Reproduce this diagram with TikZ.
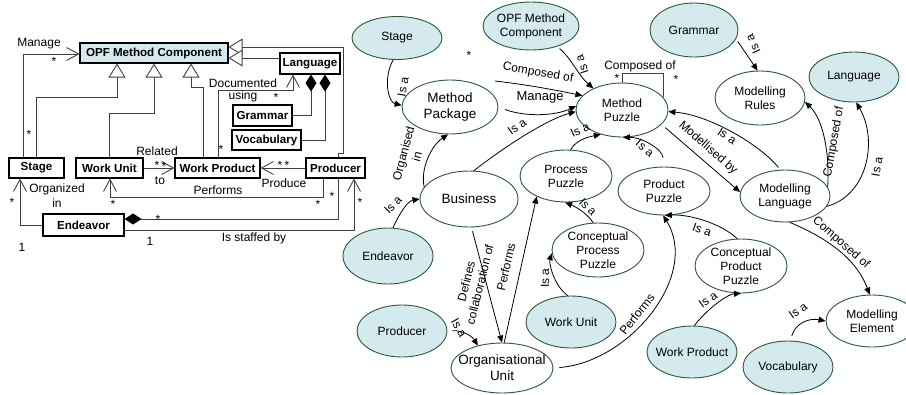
\documentclass[tikz,border=0pt]{standalone}
\usepackage{fontspec}
\setmainfont{Liberation Sans}
\usetikzlibrary{arrows.meta,shapes.geometric}
\definecolor{eblue}{RGB}{212,234,239}
\definecolor{egreen}{RGB}{40,90,55}
\definecolor{ugray}{RGB}{64,64,64}
\tikzset{
  wel/.style={ellipse,draw=egreen,line width=0.9bp,fill=white,inner sep=0pt},
  bel/.style={wel,fill=eblue},
  et/.style={align=center,inner sep=0pt,font=\fontsize{12bp}{14bp}\selectfont},
  etb/.style={align=center,inner sep=0pt,font=\fontsize{13.5bp}{16bp}\selectfont},
  lab/.style={inner sep=0pt,font=\fontsize{12bp}{14bp}\selectfont},
  labc/.style={lab,align=center},
  ar/.style={draw=black,line width=0.8bp,-{Triangle[length=7bp,width=6bp]}},
  box/.style={draw=black,line width=1.1bp,inner sep=0pt,minimum height=20bp,font=\bfseries\fontsize{11.6bp}{13bp}\selectfont},
  gen/.style={draw=ugray,line width=0.9bp,-{Triangle[length=14bp,width=17bp,fill=white]}},
  nav/.style={draw=ugray,line width=0.9bp,-{Straight Barb[length=12bp,width=13bp]}},
  comp/.style={draw=ugray,line width=0.9bp,-{Diamond[length=17bp,width=11bp,color=black]}},
  plain/.style={draw=ugray,line width=0.9bp},
  st/.style={lab,yshift=-2.5bp},
}
\begin{document}
\begin{tikzpicture}[x=1bp,y=-1bp]
\useasboundingbox (0,0) rectangle (906,394);
% ---------------- left UML part ----------------
\node[box,fill=eblue,minimum width=148bp] (opf) at (154,53) {OPF Method Component};
\node[box,minimum width=60bp,minimum height=21bp] (lang) at (310,63.5) {Language};
\node[box,minimum width=59bp,minimum height=21bp] (gram) at (262.5,115.5) {Grammar};
\node[box,minimum width=69bp] (voc) at (266.5,140) {Vocabulary};
\node[box,minimum width=55bp] (stg) at (36.5,168) {Stage};
\node[box,minimum width=67bp] (wu) at (109.5,168) {Work Unit};
\node[box,minimum width=85bp] (wp) at (217.5,168) {Work Product};
\node[box,minimum width=59bp] (prd) at (335.5,168) {Producer};
\node[box,minimum width=81bp,minimum height=22bp] (endv) at (83.5,225) {Endeavor};

\coordinate (g1) at (117,97);
\coordinate (g2) at (154,113);
\coordinate (g3) at (203,87); \coordinate (g3b) at (191,87);
\coordinate (g4) at (280,58);
\coordinate (g5) at (338,153); \coordinate (g6) at (343,153); \coordinate (g7) at (343,47);
\coordinate (g8) at (23,54);
\coordinate (g9) at (218,90); \coordinate (g10) at (293,90);
\coordinate (g11) at (311,115.5); \coordinate (g12) at (325,140);
\coordinate (g13) at (323,197); \coordinate (g14) at (110,197);
\coordinate (g15) at (20,225);
\coordinate (g16) at (338,219);
\coordinate (g17) at (354,230);

\draw[gen] (stg.north) |- (g1) -- (opf.south -| g1);
\draw[gen] (wu.north) |- (g2) -- (opf.south -| g2);
\draw[gen] (wp.north -| g3) -- (g3) -- (g3b) -- (opf.south -| g3b);
\draw[gen] (prd.north -| g5) -- (g5) -- (g6) -- (g7) -- (opf.east |- g7);
\draw[gen] (lang.west |- g4) -- (opf.east |- g4);
\draw[nav] (stg.north -| g8) -- (g8) -- (opf.west |- g8);
\draw[nav] (wp.north -| g9) -- (g9) -- (g10) -- (lang.south -| g10);
\draw[comp] (gram.east) -- (g11) -- (lang.south -| g11);
\draw[comp] (voc.east) -- (g12) -- (lang.south -| g12);
\draw[nav] (wu.east) -- (wp.west);
\draw[nav] (prd.west) -- (wp.east);
\draw[nav] (prd.south -| g13) -- (g13) -- (g14) -- (wu.south -| g14);
\draw[nav] (endv.west) -- (g15) -- (stg.south -| g15);
\draw[comp] (prd.south -| g16) -- (g16) -- (endv.east |- g16);
\draw[nav] (endv.east |- g17) -- (g17) -- (prd.south -| g17);

\node[lab] (tManage) at (39,44) {Manage};
\node[st] (s1) at (54,59) {*};
\node[st] (s2) at (29,132) {*};
\node[lab] (tDoc) at (243,83) {Documented};
\node[lab] (tUsing) at (243,96) {using};
\node[st] (s3) at (276,95) {*};
\node[st] (s4) at (221,147) {*};
\node[lab] (tRel) at (157,151) {Related};
\node[lab] (tTo) at (160,181) {to};
\node[st] (s5) at (157,163) {*};
\node[st] (s6) at (164,164) {*};
\node[st] (s7) at (280,163) {*};
\node[st] (s8) at (287,163) {*};
\node[lab] (tProduce) at (284,183) {Produce};
\node[lab] (tPerf) at (218,190) {Performs};
\node[st] (s9) at (113,202) {*};
\node[st] (s10) at (318,202) {*};
\node[st] (s11) at (332,194) {*};
\node[lab] (tOrg) at (57,189) {Organized};
\node[lab] (tIn) at (57,203) {in};
\node[st] (s12) at (12,200) {*};
\node[lab] (tOne1) at (22,247) {1};
\node[st] (s13) at (158,217) {*};
\node[lab] (tStaff) at (254,238) {Is staffed by};
\node[lab] (tOne2) at (150,241) {1};
\node[st] (s14) at (360,200) {*};

% ---------------- right concept map ----------------
\node[bel,minimum width=90bp,minimum height=43bp,label={[et]center:Stage}] (eStage) at (397,38) {};
\node[bel,minimum width=96bp,minimum height=48bp,label={[et]center:OPF Method\\Component}] (eOPF) at (531,26) {};
\node[bel,minimum width=88bp,minimum height=54bp,label={[et]center:Grammar}] (eGram) at (694,30) {};
\node[bel,minimum width=90bp,minimum height=50bp,label={[et]center:Language}] (eLang) at (854,77) {};
\node[bel,minimum width=90bp,minimum height=56bp,label={[et]center:Endeavor}] (eEnd) at (388,256) {};
\node[bel,minimum width=90bp,minimum height=52bp,label={[et]center:Producer}] (eProd) at (402,331) {};
\node[bel,minimum width=90bp,minimum height=52bp,label={[et]center:Work Unit}] (eWU) at (571,322) {};
\node[bel,minimum width=90bp,minimum height=52bp,label={[et]center:Work Product}] (eWP) at (692,352) {};
\node[bel,minimum width=90bp,minimum height=52bp,label={[et]center:Vocabulary}] (eVoc) at (788,367) {};

\node[wel,minimum width=96bp,minimum height=54bp,label={[etb]center:Method\\Package}] (mpk) at (450,107) {};
\node[wel,minimum width=92bp,minimum height=54bp,label={[et]center:Method\\Puzzle}] (mpz) at (622,110) {};
\node[wel,minimum width=90bp,minimum height=54bp,label={[et]center:Modelling\\Rules}] (mrules) at (760,98) {};
\node[wel,minimum width=98bp,minimum height=56bp,label={[etb]center:Business}] (bus) at (469,199) {};
\node[wel,minimum width=92bp,minimum height=52bp,label={[et]center:Process\\Puzzle}] (procp) at (566,176) {};
\node[wel,minimum width=92bp,minimum height=48bp,label={[et]center:Product\\Puzzle}] (prodp) at (664,191) {};
\node[wel,minimum width=92bp,minimum height=54bp,label={[et]center:Conceptual\\Process\\Puzzle}] (cprocp) at (598,250) {};
\node[wel,minimum width=92bp,minimum height=54bp,label={[et]center:Conceptual\\Product\\Puzzle}] (cprodp) at (741,266) {};
\node[wel,minimum width=90bp,minimum height=52bp,label={[et]center:Modelling\\Language}] (mlang) at (785,196) {};
\node[wel,minimum width=92bp,minimum height=52bp,label={[et]center:Modelling\\Element}] (melem) at (872,321) {};
\node[wel,minimum width=102bp,minimum height=50bp,label={[etb]center:Organisational\\Unit}] (orgu) at (502,368) {};

\coordinate (cst) at (495,81);

\draw[ar] (eStage.-100) .. controls (383,78) and (388,102) .. (mpk.178);
\draw[ar,shorten <=3bp] (eOPF.-38) .. controls (571,58) and (578,75) .. (mpz.143);
\draw[ar] (cst) .. controls (530,85) and (560,91) .. (mpz.160);
\draw[ar,shorten <=7bp] (mpk.east) .. controls (525,117) and (555,116) .. (mpz.175);
\draw[ar] (bus.80) .. controls (500,150) and (545,120) .. (mpz.182);
\draw[ar] (bus.165) .. controls (420,168) and (432,145) .. (mpk.-94);
\draw[ar] (eEnd.80) .. controls (400,212) and (408,201) .. (bus.west);
\draw[ar] (procp.80) .. controls (576,140) and (588,137) .. (mpz.-131);
\draw[ar,shorten <=9bp] (prodp.north) .. controls (662,148) and (640,137) .. (mpz.-88);
\draw[plain] (mpz.north) -- ++(0,-9) -| (mpz.17);
\draw[ar,shorten <=5bp] (mpz.-20) -- (mlang.175);
\draw[ar,shorten <=3bp] (mlang.100) .. controls (760,145) and (710,115) .. (mpz.-2);
\draw[ar] (mlang.12) .. controls (830,150) and (822,118) .. (mrules.-5);
\draw[ar] (mlang.-14) .. controls (868,195) and (878,140) .. (eLang.-85);
\draw[ar] (mlang.-80) .. controls (820,235) and (855,255) .. (melem.95);
\draw[ar,shorten <=3bp] (eGram.-12) -- (mrules.95);
\draw[ar] (cprocp.100) .. controls (586,212) and (574,206) .. (procp.-92);
\draw[ar] (eWU.97) .. controls (553,285) and (549,262) .. (cprocp.-176);
\draw[ar] (cprodp.98) .. controls (722,224) and (690,214) .. (prodp.-88);
\draw[ar] (eWP.85) .. controls (708,308) and (728,294) .. (cprodp.-90);
\draw[ar,shorten <=5bp] (eVoc.85) .. controls (796,322) and (810,318) .. (melem.west);
\draw[ar,shorten <=6bp] (orgu.east) .. controls (630,362) and (700,275) .. (prodp.-92);
\draw[ar] (orgu.85) -- (procp.-145);
\draw[ar,shorten <=4bp] (bus.-85) -- (orgu.north);
\draw[ar,shorten <=5bp] (eProd.east) .. controls (462,330) and (472,336) .. (orgu.137);

\node[lab,rotate=80] (r1) at (403,87) {Is a};
\node[lab,rotate=108] (r2) at (582,65) {Is a};
\node[lab,rotate=-10] (r3) at (538,73) {Composed of};
\node[st] (r4) at (469,53) {*};
\node[lab,font=\fontsize{13bp}{15bp}\selectfont] (r5) at (540,97) {Manage};
\node[lab,rotate=35] (r6) at (517,127) {Is a};
\node[labc,rotate=75] (r7) at (410,155) {Organised\\in};
\node[lab,rotate=45] (r8) at (393,205) {Is a};
\node[lab,rotate=25] (r9) at (580,130) {Is a};
\node[lab,rotate=-40] (r10) at (645,148) {Is a};
\node[lab] (r11) at (640,66) {Composed of};
\node[st] (r12) at (617,76) {*};
\node[st] (r13) at (676,77) {*};
\node[lab,rotate=-41] (r14) at (708,148) {Modellised by};
\node[lab,rotate=-33] (r15) at (727,136) {Is a};
\node[lab,rotate=80] (r16) at (834,142) {Composed of};
\node[lab,rotate=80] (r17) at (877,167) {Is a};
\node[lab,rotate=-41] (r18) at (841,243) {Composed of};
\node[lab,rotate=115] (r19) at (753,44) {Is a};
\node[lab,rotate=-45] (r20) at (588,207) {Is a};
\node[lab,rotate=90] (r21) at (545,278) {Is a};
\node[lab,rotate=-20] (r22) at (702,230) {Is a};
\node[lab,rotate=35] (r23) at (708,300) {Is a};
\node[lab,rotate=35] (r24) at (798,311) {Is a};
\node[lab,rotate=52] (r25) at (637,314) {Performs};
\node[lab,rotate=77] (r26) at (506,267) {Performs};
\node[labc,rotate=76] (r27) at (473,283) {Defines\\collaboration of};
\node[lab,rotate=-60] (r28) at (459,328) {Is a};
\end{tikzpicture}
\end{document}
